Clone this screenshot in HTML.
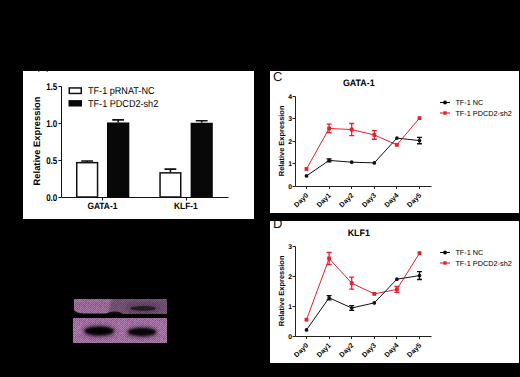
<!DOCTYPE html>
<html><head><meta charset="utf-8"><style>
html,body{margin:0;padding:0;background:#000;}
body{width:520px;height:377px;overflow:hidden;}
svg{display:block;font-family:"Liberation Sans", sans-serif;text-rendering:geometricPrecision;}
</style></head><body>
<svg width="520" height="377" viewBox="0 0 520 377">
<rect width="520" height="377" fill="#000"/>
<rect x="23" y="71" width="231" height="148" fill="#fff"/>
<rect x="38" y="71" width="1.5" height="1" fill="#777"/>
<rect x="46.5" y="71" width="1.5" height="1" fill="#777"/>
<path d="M61.5 86.5 V197.5 H228.5" stroke="#111" stroke-width="1" fill="none"/>
<path d="M58.5 197.5 H61.5" stroke="#111" stroke-width="1"/>
<text transform="translate(57.3 200.9) scale(1 1.22)" text-anchor="end" font-size="8" font-weight="bold">0.0</text>
<path d="M58.5 160.5 H61.5" stroke="#111" stroke-width="1"/>
<text transform="translate(57.3 163.9) scale(1 1.22)" text-anchor="end" font-size="8" font-weight="bold">0.5</text>
<path d="M58.5 123.5 H61.5" stroke="#111" stroke-width="1"/>
<text transform="translate(57.3 126.9) scale(1 1.22)" text-anchor="end" font-size="8" font-weight="bold">1.0</text>
<path d="M58.5 86.5 H61.5" stroke="#111" stroke-width="1"/>
<text transform="translate(57.3 89.9) scale(1 1.22)" text-anchor="end" font-size="8" font-weight="bold">1.5</text>
<path d="M102.5 197.5 V200.5" stroke="#111" stroke-width="1"/>
<path d="M186.5 197.5 V200.5" stroke="#111" stroke-width="1"/>
<text transform="translate(102.4 208.6) scale(1 1.1)" text-anchor="middle" font-size="8.4" font-weight="bold">GATA-1</text>
<text transform="translate(185.9 208.6) scale(1 1.1)" text-anchor="middle" font-size="8.4" font-weight="bold">KLF-1</text>
<path d="M87.15 161.906 V160.94400000000002 M81.25 160.94400000000002 H93.05000000000001" stroke="#111" stroke-width="1.6"/>
<rect x="76.75" y="162.656" width="20.799999999999997" height="34.343999999999994" fill="#fff" stroke="#111" stroke-width="1.5"/>
<path d="M118.15 122.464 V119.874 M112.25 119.874 H124.05000000000001" stroke="#111" stroke-width="1.6"/>
<rect x="107" y="122.464" width="22.30000000000001" height="75.036" fill="#080808"/>
<path d="M170.4 172.118 V169.158 M164.5 169.158 H176.3" stroke="#111" stroke-width="1.6"/>
<rect x="160.05" y="172.868" width="20.69999999999999" height="24.132000000000005" fill="#fff" stroke="#111" stroke-width="1.5"/>
<path d="M201.7 122.76 V120.688 M195.79999999999998 120.688 H207.6" stroke="#111" stroke-width="1.6"/>
<rect x="190.6" y="122.76" width="22.200000000000017" height="74.74" fill="#080808"/>
<rect x="69.25" y="87.95" width="12" height="5.5" fill="#fff" stroke="#111" stroke-width="1.5"/>
<rect x="68.5" y="100.1" width="13.5" height="6.4" fill="#080808"/>
<text transform="translate(88 94.3) scale(1 1.1)" font-size="9.1">TF-1 pRNAT-NC</text>
<text transform="translate(88 107.1) scale(1 1.1)" font-size="9.1">TF-1 PDCD2-sh2</text>
<text transform="translate(39.9 141) rotate(-90)" text-anchor="middle" font-size="9.35" font-weight="bold">Relative Expression</text>
<rect x="270" y="71" width="249" height="142" fill="#fff"/>
<defs><clipPath id="clpC"><rect x="270" y="71" width="249" height="142"/></clipPath></defs>
<g clip-path="url(#clpC)"><text transform="translate(272.9 80.5) scale(1.0 1)" font-size="13" fill="#111">C</text></g>
<text transform="translate(358.8 85.55) scale(1 1.05)" text-anchor="middle" font-size="8.9" font-weight="bold">GATA-1</text>
<path d="M295.5 96.5 V186.5 H431.5" stroke="#222" stroke-width="1" fill="none"/>
<path d="M292.5 186.5 H295.5" stroke="#222" stroke-width="1"/>
<text x="292.0" y="188.5" text-anchor="end" font-size="6.8" font-weight="bold">0</text>
<path d="M292.5 163.5 H295.5" stroke="#222" stroke-width="1"/>
<text x="292.0" y="165.5" text-anchor="end" font-size="6.8" font-weight="bold">1</text>
<path d="M292.5 141.5 H295.5" stroke="#222" stroke-width="1"/>
<text x="292.0" y="143.5" text-anchor="end" font-size="6.8" font-weight="bold">2</text>
<path d="M292.5 118.5 H295.5" stroke="#222" stroke-width="1"/>
<text x="292.0" y="120.5" text-anchor="end" font-size="6.8" font-weight="bold">3</text>
<path d="M292.5 96.5 H295.5" stroke="#222" stroke-width="1"/>
<text x="292.0" y="98.5" text-anchor="end" font-size="6.8" font-weight="bold">4</text>
<path d="M306.5 186.5 V189.0" stroke="#222" stroke-width="1"/>
<text transform="translate(308.7 195.8) rotate(-45)" text-anchor="end" font-size="7" font-weight="bold">Day0</text>
<path d="M329.5 186.5 V189.0" stroke="#222" stroke-width="1"/>
<text transform="translate(331.3 195.8) rotate(-45)" text-anchor="end" font-size="7" font-weight="bold">Day1</text>
<path d="M351.5 186.5 V189.0" stroke="#222" stroke-width="1"/>
<text transform="translate(353.9 195.8) rotate(-45)" text-anchor="end" font-size="7" font-weight="bold">Day2</text>
<path d="M374.5 186.5 V189.0" stroke="#222" stroke-width="1"/>
<text transform="translate(376.5 195.8) rotate(-45)" text-anchor="end" font-size="7" font-weight="bold">Day3</text>
<path d="M396.5 186.5 V189.0" stroke="#222" stroke-width="1"/>
<text transform="translate(399.09999999999997 195.8) rotate(-45)" text-anchor="end" font-size="7" font-weight="bold">Day4</text>
<path d="M419.5 186.5 V189.0" stroke="#222" stroke-width="1"/>
<text transform="translate(421.7 195.8) rotate(-45)" text-anchor="end" font-size="7" font-weight="bold">Day5</text>
<text transform="translate(283.8 140.9) rotate(-90)" text-anchor="middle" font-size="7.45" font-weight="bold">Relative Expression</text>
<path d="M306.50 168.95 L329.10 128.45 L351.70 129.57 L374.30 134.97 L396.90 144.88 L419.50 118.10" stroke="#e5202a" stroke-width="1.0" fill="none"/>
<rect x="304.60" y="167.05" width="3.8" height="3.8" fill="#e5202a"/>
<path d="M329.10 124.17 V132.72 M326.60 124.17 H331.60 M326.60 132.72 H331.60" stroke="#e5202a" stroke-width="1.3"/>
<rect x="327.20" y="126.55" width="3.8" height="3.8" fill="#e5202a"/>
<path d="M351.70 123.50 V135.65 M349.20 123.50 H354.20 M349.20 135.65 H354.20" stroke="#e5202a" stroke-width="1.3"/>
<rect x="349.80" y="127.67" width="3.8" height="3.8" fill="#e5202a"/>
<path d="M374.30 130.70 V139.25 M371.80 130.70 H376.80 M371.80 139.25 H376.80" stroke="#e5202a" stroke-width="1.3"/>
<rect x="372.40" y="133.07" width="3.8" height="3.8" fill="#e5202a"/>
<rect x="395.00" y="142.97" width="3.8" height="3.8" fill="#e5202a"/>
<rect x="417.60" y="116.20" width="3.8" height="3.8" fill="#e5202a"/>
<path d="M306.50 175.93 L329.10 160.40 L351.70 162.20 L374.30 162.88 L396.90 138.12 L419.50 140.60" stroke="#111" stroke-width="1.0" fill="none"/>
<circle cx="306.50" cy="175.93" r="1.85" fill="#111"/>
<path d="M329.10 158.83 V161.97 M326.60 158.83 H331.60 M326.60 161.97 H331.60" stroke="#111" stroke-width="1.3"/>
<circle cx="329.10" cy="160.40" r="1.85" fill="#111"/>
<circle cx="351.70" cy="162.20" r="1.85" fill="#111"/>
<circle cx="374.30" cy="162.88" r="1.85" fill="#111"/>
<circle cx="396.90" cy="138.12" r="1.85" fill="#111"/>
<path d="M419.50 137.45 V143.75 M417.00 137.45 H422.00 M417.00 143.75 H422.00" stroke="#111" stroke-width="1.3"/>
<circle cx="419.50" cy="140.60" r="1.85" fill="#111"/>
<path d="M440 102.5 H450" stroke="#111" stroke-width="1.1"/><circle cx="445" cy="102.5" r="1.9" fill="#080808"/>
<path d="M440 113 H450" stroke="#e5202a" stroke-width="1.1"/><rect x="443.3" y="111.3" width="3.4" height="3.4" fill="#e5202a"/>
<text x="455.4" y="105.0" font-size="7.3">TF-1 NC</text>
<text x="455.4" y="115.5" font-size="7.3">TF-1 PDCD2-sh2</text>
<rect x="270" y="221" width="249" height="142" fill="#fff"/>
<defs><clipPath id="clpD"><rect x="270" y="221" width="249" height="142"/></clipPath></defs>
<g clip-path="url(#clpD)"><text transform="translate(272.9 227.7) scale(1.0 1)" font-size="13" fill="#111">D</text></g>
<text transform="translate(358.8 235.55) scale(1 1.05)" text-anchor="middle" font-size="8.9" font-weight="bold">KLF1</text>
<path d="M295.5 246.5 V336.5 H431.5" stroke="#222" stroke-width="1" fill="none"/>
<path d="M292.5 336.5 H295.5" stroke="#222" stroke-width="1"/>
<text x="292.0" y="338.5" text-anchor="end" font-size="6.8" font-weight="bold">0</text>
<path d="M292.5 306.5 H295.5" stroke="#222" stroke-width="1"/>
<text x="292.0" y="308.5" text-anchor="end" font-size="6.8" font-weight="bold">1</text>
<path d="M292.5 276.5 H295.5" stroke="#222" stroke-width="1"/>
<text x="292.0" y="278.5" text-anchor="end" font-size="6.8" font-weight="bold">2</text>
<path d="M292.5 246.5 H295.5" stroke="#222" stroke-width="1"/>
<text x="292.0" y="248.5" text-anchor="end" font-size="6.8" font-weight="bold">3</text>
<path d="M306.5 336.5 V339.0" stroke="#222" stroke-width="1"/>
<text transform="translate(308.7 345.8) rotate(-45)" text-anchor="end" font-size="7" font-weight="bold">Day0</text>
<path d="M329.5 336.5 V339.0" stroke="#222" stroke-width="1"/>
<text transform="translate(331.3 345.8) rotate(-45)" text-anchor="end" font-size="7" font-weight="bold">Day1</text>
<path d="M351.5 336.5 V339.0" stroke="#222" stroke-width="1"/>
<text transform="translate(353.9 345.8) rotate(-45)" text-anchor="end" font-size="7" font-weight="bold">Day2</text>
<path d="M374.5 336.5 V339.0" stroke="#222" stroke-width="1"/>
<text transform="translate(376.5 345.8) rotate(-45)" text-anchor="end" font-size="7" font-weight="bold">Day3</text>
<path d="M396.5 336.5 V339.0" stroke="#222" stroke-width="1"/>
<text transform="translate(399.09999999999997 345.8) rotate(-45)" text-anchor="end" font-size="7" font-weight="bold">Day4</text>
<path d="M419.5 336.5 V339.0" stroke="#222" stroke-width="1"/>
<text transform="translate(421.7 345.8) rotate(-45)" text-anchor="end" font-size="7" font-weight="bold">Day5</text>
<text transform="translate(283.8 290.9) rotate(-90)" text-anchor="middle" font-size="7.45" font-weight="bold">Relative Expression</text>
<path d="M306.50 319.70 L329.10 258.50 L351.70 283.10 L374.30 293.90 L396.90 289.40 L419.50 253.10" stroke="#e5202a" stroke-width="1.0" fill="none"/>
<rect x="304.60" y="317.80" width="3.8" height="3.8" fill="#e5202a"/>
<path d="M329.10 252.50 V264.50 M326.60 252.50 H331.60 M326.60 264.50 H331.60" stroke="#e5202a" stroke-width="1.3"/>
<rect x="327.20" y="256.60" width="3.8" height="3.8" fill="#e5202a"/>
<path d="M351.70 277.10 V289.10 M349.20 277.10 H354.20 M349.20 289.10 H354.20" stroke="#e5202a" stroke-width="1.3"/>
<rect x="349.80" y="281.20" width="3.8" height="3.8" fill="#e5202a"/>
<rect x="372.40" y="292.00" width="3.8" height="3.8" fill="#e5202a"/>
<path d="M396.90 286.40 V292.40 M394.40 286.40 H399.40 M394.40 292.40 H399.40" stroke="#e5202a" stroke-width="1.3"/>
<rect x="395.00" y="287.50" width="3.8" height="3.8" fill="#e5202a"/>
<rect x="417.60" y="251.20" width="3.8" height="3.8" fill="#e5202a"/>
<path d="M306.50 329.90 L329.10 297.80 L351.70 308.00 L374.30 302.90 L396.90 279.20 L419.50 275.60" stroke="#111" stroke-width="1.0" fill="none"/>
<circle cx="306.50" cy="329.90" r="1.85" fill="#111"/>
<path d="M329.10 295.70 V299.90 M326.60 295.70 H331.60 M326.60 299.90 H331.60" stroke="#111" stroke-width="1.3"/>
<circle cx="329.10" cy="297.80" r="1.85" fill="#111"/>
<path d="M351.70 305.60 V310.40 M349.20 305.60 H354.20 M349.20 310.40 H354.20" stroke="#111" stroke-width="1.3"/>
<circle cx="351.70" cy="308.00" r="1.85" fill="#111"/>
<circle cx="374.30" cy="302.90" r="1.85" fill="#111"/>
<circle cx="396.90" cy="279.20" r="1.85" fill="#111"/>
<path d="M419.50 271.70 V279.50 M417.00 271.70 H422.00 M417.00 279.50 H422.00" stroke="#111" stroke-width="1.3"/>
<circle cx="419.50" cy="275.60" r="1.85" fill="#111"/>
<path d="M440 252.5 H450" stroke="#111" stroke-width="1.1"/><circle cx="445" cy="252.5" r="1.9" fill="#080808"/>
<path d="M440 263 H450" stroke="#e5202a" stroke-width="1.1"/><rect x="443.3" y="261.3" width="3.4" height="3.4" fill="#e5202a"/>
<text x="455.4" y="255.0" font-size="7.3">TF-1 NC</text>
<text x="455.4" y="265.5" font-size="7.3">TF-1 PDCD2-sh2</text>
<defs>
<pattern id="dith" x="0" y="0" width="16" height="16" patternUnits="userSpaceOnUse"><g shape-rendering="crispEdges"><rect x="0" y="0" width="1" height="1" fill="#ac7cac"/><rect x="1" y="0" width="1" height="1" fill="#567a58"/><rect x="2" y="0" width="1" height="1" fill="#ae7eae"/><rect x="3" y="0" width="1" height="1" fill="#668a68"/><rect x="4" y="0" width="1" height="1" fill="#a373a3"/><rect x="5" y="0" width="1" height="1" fill="#547856"/><rect x="6" y="0" width="1" height="1" fill="#bc8cbc"/><rect x="7" y="0" width="1" height="1" fill="#638765"/><rect x="8" y="0" width="1" height="1" fill="#a575a5"/><rect x="9" y="0" width="1" height="1" fill="#5d815f"/><rect x="10" y="0" width="1" height="1" fill="#b484b4"/><rect x="11" y="0" width="1" height="1" fill="#537755"/><rect x="12" y="0" width="1" height="1" fill="#b282b2"/><rect x="13" y="0" width="1" height="1" fill="#587c5a"/><rect x="14" y="0" width="1" height="1" fill="#a373a3"/><rect x="15" y="0" width="1" height="1" fill="#547856"/><rect x="0" y="1" width="1" height="1" fill="#5f8361"/><rect x="1" y="1" width="1" height="1" fill="#af7faf"/><rect x="2" y="1" width="1" height="1" fill="#547856"/><rect x="3" y="1" width="1" height="1" fill="#a979a9"/><rect x="4" y="1" width="1" height="1" fill="#547856"/><rect x="5" y="1" width="1" height="1" fill="#b383b3"/><rect x="6" y="1" width="1" height="1" fill="#5f8361"/><rect x="7" y="1" width="1" height="1" fill="#a373a3"/><rect x="8" y="1" width="1" height="1" fill="#6c906e"/><rect x="9" y="1" width="1" height="1" fill="#b484b4"/><rect x="10" y="1" width="1" height="1" fill="#557957"/><rect x="11" y="1" width="1" height="1" fill="#a979a9"/><rect x="12" y="1" width="1" height="1" fill="#668a68"/><rect x="13" y="1" width="1" height="1" fill="#b686b6"/><rect x="14" y="1" width="1" height="1" fill="#648866"/><rect x="15" y="1" width="1" height="1" fill="#a373a3"/><rect x="0" y="2" width="1" height="1" fill="#b484b4"/><rect x="1" y="2" width="1" height="1" fill="#648866"/><rect x="2" y="2" width="1" height="1" fill="#ae7eae"/><rect x="3" y="2" width="1" height="1" fill="#537755"/><rect x="4" y="2" width="1" height="1" fill="#a979a9"/><rect x="5" y="2" width="1" height="1" fill="#537755"/><rect x="6" y="2" width="1" height="1" fill="#b383b3"/><rect x="7" y="2" width="1" height="1" fill="#6d916f"/><rect x="8" y="2" width="1" height="1" fill="#a676a6"/><rect x="9" y="2" width="1" height="1" fill="#5b7f5d"/><rect x="10" y="2" width="1" height="1" fill="#af7faf"/><rect x="11" y="2" width="1" height="1" fill="#567a58"/><rect x="12" y="2" width="1" height="1" fill="#b383b3"/><rect x="13" y="2" width="1" height="1" fill="#557957"/><rect x="14" y="2" width="1" height="1" fill="#b484b4"/><rect x="15" y="2" width="1" height="1" fill="#5b7f5d"/><rect x="0" y="3" width="1" height="1" fill="#638765"/><rect x="1" y="3" width="1" height="1" fill="#bc8cbc"/><rect x="2" y="3" width="1" height="1" fill="#678b69"/><rect x="3" y="3" width="1" height="1" fill="#a777a7"/><rect x="4" y="3" width="1" height="1" fill="#557957"/><rect x="5" y="3" width="1" height="1" fill="#b484b4"/><rect x="6" y="3" width="1" height="1" fill="#648866"/><rect x="7" y="3" width="1" height="1" fill="#b686b6"/><rect x="8" y="3" width="1" height="1" fill="#587c5a"/><rect x="9" y="3" width="1" height="1" fill="#ad7dad"/><rect x="10" y="3" width="1" height="1" fill="#557957"/><rect x="11" y="3" width="1" height="1" fill="#b383b3"/><rect x="12" y="3" width="1" height="1" fill="#688c6a"/><rect x="13" y="3" width="1" height="1" fill="#a474a4"/><rect x="14" y="3" width="1" height="1" fill="#648866"/><rect x="15" y="3" width="1" height="1" fill="#a373a3"/><rect x="0" y="4" width="1" height="1" fill="#b585b5"/><rect x="1" y="4" width="1" height="1" fill="#587c5a"/><rect x="2" y="4" width="1" height="1" fill="#b181b1"/><rect x="3" y="4" width="1" height="1" fill="#678b69"/><rect x="4" y="4" width="1" height="1" fill="#b383b3"/><rect x="5" y="4" width="1" height="1" fill="#5f8361"/><rect x="6" y="4" width="1" height="1" fill="#ba8aba"/><rect x="7" y="4" width="1" height="1" fill="#5c805e"/><rect x="8" y="4" width="1" height="1" fill="#b080b0"/><rect x="9" y="4" width="1" height="1" fill="#648866"/><rect x="10" y="4" width="1" height="1" fill="#b080b0"/><rect x="11" y="4" width="1" height="1" fill="#5d815f"/><rect x="12" y="4" width="1" height="1" fill="#ab7bab"/><rect x="13" y="4" width="1" height="1" fill="#597d5b"/><rect x="14" y="4" width="1" height="1" fill="#bb8bbb"/><rect x="15" y="4" width="1" height="1" fill="#577b59"/><rect x="0" y="5" width="1" height="1" fill="#688c6a"/><rect x="1" y="5" width="1" height="1" fill="#ba8aba"/><rect x="2" y="5" width="1" height="1" fill="#597d5b"/><rect x="3" y="5" width="1" height="1" fill="#a474a4"/><rect x="4" y="5" width="1" height="1" fill="#648866"/><rect x="5" y="5" width="1" height="1" fill="#ab7bab"/><rect x="6" y="5" width="1" height="1" fill="#628664"/><rect x="7" y="5" width="1" height="1" fill="#b181b1"/><rect x="8" y="5" width="1" height="1" fill="#6e9270"/><rect x="9" y="5" width="1" height="1" fill="#ac7cac"/><rect x="10" y="5" width="1" height="1" fill="#698d6b"/><rect x="11" y="5" width="1" height="1" fill="#b080b0"/><rect x="12" y="5" width="1" height="1" fill="#5b7f5d"/><rect x="13" y="5" width="1" height="1" fill="#b585b5"/><rect x="14" y="5" width="1" height="1" fill="#547856"/><rect x="15" y="5" width="1" height="1" fill="#a575a5"/><rect x="0" y="6" width="1" height="1" fill="#b282b2"/><rect x="1" y="6" width="1" height="1" fill="#5f8361"/><rect x="2" y="6" width="1" height="1" fill="#a777a7"/><rect x="3" y="6" width="1" height="1" fill="#6a8e6c"/><rect x="4" y="6" width="1" height="1" fill="#ac7cac"/><rect x="5" y="6" width="1" height="1" fill="#567a58"/><rect x="6" y="6" width="1" height="1" fill="#b181b1"/><rect x="7" y="6" width="1" height="1" fill="#5f8361"/><rect x="8" y="6" width="1" height="1" fill="#a373a3"/><rect x="9" y="6" width="1" height="1" fill="#678b69"/><rect x="10" y="6" width="1" height="1" fill="#a474a4"/><rect x="11" y="6" width="1" height="1" fill="#6a8e6c"/><rect x="12" y="6" width="1" height="1" fill="#b383b3"/><rect x="13" y="6" width="1" height="1" fill="#648866"/><rect x="14" y="6" width="1" height="1" fill="#bb8bbb"/><rect x="15" y="6" width="1" height="1" fill="#6e9270"/><rect x="0" y="7" width="1" height="1" fill="#6c906e"/><rect x="1" y="7" width="1" height="1" fill="#ac7cac"/><rect x="2" y="7" width="1" height="1" fill="#5c805e"/><rect x="3" y="7" width="1" height="1" fill="#b888b8"/><rect x="4" y="7" width="1" height="1" fill="#5d815f"/><rect x="5" y="7" width="1" height="1" fill="#b585b5"/><rect x="6" y="7" width="1" height="1" fill="#618563"/><rect x="7" y="7" width="1" height="1" fill="#b484b4"/><rect x="8" y="7" width="1" height="1" fill="#6b8f6d"/><rect x="9" y="7" width="1" height="1" fill="#b080b0"/><rect x="10" y="7" width="1" height="1" fill="#547856"/><rect x="11" y="7" width="1" height="1" fill="#bc8cbc"/><rect x="12" y="7" width="1" height="1" fill="#547856"/><rect x="13" y="7" width="1" height="1" fill="#aa7aaa"/><rect x="14" y="7" width="1" height="1" fill="#618563"/><rect x="15" y="7" width="1" height="1" fill="#b888b8"/><rect x="0" y="8" width="1" height="1" fill="#b787b7"/><rect x="1" y="8" width="1" height="1" fill="#547856"/><rect x="2" y="8" width="1" height="1" fill="#a373a3"/><rect x="3" y="8" width="1" height="1" fill="#698d6b"/><rect x="4" y="8" width="1" height="1" fill="#b888b8"/><rect x="5" y="8" width="1" height="1" fill="#5b7f5d"/><rect x="6" y="8" width="1" height="1" fill="#b686b6"/><rect x="7" y="8" width="1" height="1" fill="#648866"/><rect x="8" y="8" width="1" height="1" fill="#b787b7"/><rect x="9" y="8" width="1" height="1" fill="#6c906e"/><rect x="10" y="8" width="1" height="1" fill="#b080b0"/><rect x="11" y="8" width="1" height="1" fill="#5b7f5d"/><rect x="12" y="8" width="1" height="1" fill="#b888b8"/><rect x="13" y="8" width="1" height="1" fill="#5e8260"/><rect x="14" y="8" width="1" height="1" fill="#be8ebe"/><rect x="15" y="8" width="1" height="1" fill="#678b69"/><rect x="0" y="9" width="1" height="1" fill="#5d815f"/><rect x="1" y="9" width="1" height="1" fill="#a272a2"/><rect x="2" y="9" width="1" height="1" fill="#608462"/><rect x="3" y="9" width="1" height="1" fill="#ad7dad"/><rect x="4" y="9" width="1" height="1" fill="#577b59"/><rect x="5" y="9" width="1" height="1" fill="#b585b5"/><rect x="6" y="9" width="1" height="1" fill="#557957"/><rect x="7" y="9" width="1" height="1" fill="#b181b1"/><rect x="8" y="9" width="1" height="1" fill="#537755"/><rect x="9" y="9" width="1" height="1" fill="#a878a8"/><rect x="10" y="9" width="1" height="1" fill="#6a8e6c"/><rect x="11" y="9" width="1" height="1" fill="#ab7bab"/><rect x="12" y="9" width="1" height="1" fill="#567a58"/><rect x="13" y="9" width="1" height="1" fill="#b989b9"/><rect x="14" y="9" width="1" height="1" fill="#597d5b"/><rect x="15" y="9" width="1" height="1" fill="#ae7eae"/><rect x="0" y="10" width="1" height="1" fill="#ae7eae"/><rect x="1" y="10" width="1" height="1" fill="#6d916f"/><rect x="2" y="10" width="1" height="1" fill="#b181b1"/><rect x="3" y="10" width="1" height="1" fill="#547856"/><rect x="4" y="10" width="1" height="1" fill="#a777a7"/><rect x="5" y="10" width="1" height="1" fill="#608462"/><rect x="6" y="10" width="1" height="1" fill="#ae7eae"/><rect x="7" y="10" width="1" height="1" fill="#638765"/><rect x="8" y="10" width="1" height="1" fill="#aa7aaa"/><rect x="9" y="10" width="1" height="1" fill="#6e9270"/><rect x="10" y="10" width="1" height="1" fill="#a676a6"/><rect x="11" y="10" width="1" height="1" fill="#6c906e"/><rect x="12" y="10" width="1" height="1" fill="#af7faf"/><rect x="13" y="10" width="1" height="1" fill="#6d916f"/><rect x="14" y="10" width="1" height="1" fill="#b383b3"/><rect x="15" y="10" width="1" height="1" fill="#5a7e5c"/><rect x="0" y="11" width="1" height="1" fill="#688c6a"/><rect x="1" y="11" width="1" height="1" fill="#af7faf"/><rect x="2" y="11" width="1" height="1" fill="#5d815f"/><rect x="3" y="11" width="1" height="1" fill="#b787b7"/><rect x="4" y="11" width="1" height="1" fill="#6e9270"/><rect x="5" y="11" width="1" height="1" fill="#ae7eae"/><rect x="6" y="11" width="1" height="1" fill="#597d5b"/><rect x="7" y="11" width="1" height="1" fill="#a676a6"/><rect x="8" y="11" width="1" height="1" fill="#547856"/><rect x="9" y="11" width="1" height="1" fill="#a777a7"/><rect x="10" y="11" width="1" height="1" fill="#567a58"/><rect x="11" y="11" width="1" height="1" fill="#a979a9"/><rect x="12" y="11" width="1" height="1" fill="#678b69"/><rect x="13" y="11" width="1" height="1" fill="#a979a9"/><rect x="14" y="11" width="1" height="1" fill="#527654"/><rect x="15" y="11" width="1" height="1" fill="#b181b1"/><rect x="0" y="12" width="1" height="1" fill="#bc8cbc"/><rect x="1" y="12" width="1" height="1" fill="#648866"/><rect x="2" y="12" width="1" height="1" fill="#a777a7"/><rect x="3" y="12" width="1" height="1" fill="#5a7e5c"/><rect x="4" y="12" width="1" height="1" fill="#ab7bab"/><rect x="5" y="12" width="1" height="1" fill="#527654"/><rect x="6" y="12" width="1" height="1" fill="#a676a6"/><rect x="7" y="12" width="1" height="1" fill="#5f8361"/><rect x="8" y="12" width="1" height="1" fill="#b383b3"/><rect x="9" y="12" width="1" height="1" fill="#5d815f"/><rect x="10" y="12" width="1" height="1" fill="#b585b5"/><rect x="11" y="12" width="1" height="1" fill="#648866"/><rect x="12" y="12" width="1" height="1" fill="#ac7cac"/><rect x="13" y="12" width="1" height="1" fill="#567a58"/><rect x="14" y="12" width="1" height="1" fill="#b888b8"/><rect x="15" y="12" width="1" height="1" fill="#6d916f"/><rect x="0" y="13" width="1" height="1" fill="#628664"/><rect x="1" y="13" width="1" height="1" fill="#b585b5"/><rect x="2" y="13" width="1" height="1" fill="#668a68"/><rect x="3" y="13" width="1" height="1" fill="#b787b7"/><rect x="4" y="13" width="1" height="1" fill="#698d6b"/><rect x="5" y="13" width="1" height="1" fill="#a373a3"/><rect x="6" y="13" width="1" height="1" fill="#608462"/><rect x="7" y="13" width="1" height="1" fill="#be8ebe"/><rect x="8" y="13" width="1" height="1" fill="#6d916f"/><rect x="9" y="13" width="1" height="1" fill="#ba8aba"/><rect x="10" y="13" width="1" height="1" fill="#6d916f"/><rect x="11" y="13" width="1" height="1" fill="#b787b7"/><rect x="12" y="13" width="1" height="1" fill="#6b8f6d"/><rect x="13" y="13" width="1" height="1" fill="#b383b3"/><rect x="14" y="13" width="1" height="1" fill="#5e8260"/><rect x="15" y="13" width="1" height="1" fill="#ae7eae"/><rect x="0" y="14" width="1" height="1" fill="#ae7eae"/><rect x="1" y="14" width="1" height="1" fill="#5e8260"/><rect x="2" y="14" width="1" height="1" fill="#a575a5"/><rect x="3" y="14" width="1" height="1" fill="#618563"/><rect x="4" y="14" width="1" height="1" fill="#b686b6"/><rect x="5" y="14" width="1" height="1" fill="#5e8260"/><rect x="6" y="14" width="1" height="1" fill="#a373a3"/><rect x="7" y="14" width="1" height="1" fill="#587c5a"/><rect x="8" y="14" width="1" height="1" fill="#a474a4"/><rect x="9" y="14" width="1" height="1" fill="#587c5a"/><rect x="10" y="14" width="1" height="1" fill="#b080b0"/><rect x="11" y="14" width="1" height="1" fill="#577b59"/><rect x="12" y="14" width="1" height="1" fill="#a575a5"/><rect x="13" y="14" width="1" height="1" fill="#5c805e"/><rect x="14" y="14" width="1" height="1" fill="#b585b5"/><rect x="15" y="14" width="1" height="1" fill="#537755"/><rect x="0" y="15" width="1" height="1" fill="#557957"/><rect x="1" y="15" width="1" height="1" fill="#a272a2"/><rect x="2" y="15" width="1" height="1" fill="#648866"/><rect x="3" y="15" width="1" height="1" fill="#a676a6"/><rect x="4" y="15" width="1" height="1" fill="#638765"/><rect x="5" y="15" width="1" height="1" fill="#a575a5"/><rect x="6" y="15" width="1" height="1" fill="#5d815f"/><rect x="7" y="15" width="1" height="1" fill="#b585b5"/><rect x="8" y="15" width="1" height="1" fill="#527654"/><rect x="9" y="15" width="1" height="1" fill="#a474a4"/><rect x="10" y="15" width="1" height="1" fill="#6d916f"/><rect x="11" y="15" width="1" height="1" fill="#a878a8"/><rect x="12" y="15" width="1" height="1" fill="#658967"/><rect x="13" y="15" width="1" height="1" fill="#ae7eae"/><rect x="14" y="15" width="1" height="1" fill="#567a58"/><rect x="15" y="15" width="1" height="1" fill="#b686b6"/></g></pattern>
<filter id="bl1" x="-50%" y="-100%" width="200%" height="300%"><feGaussianBlur stdDeviation="1.5"/></filter>
<filter id="bl2" x="-50%" y="-100%" width="200%" height="300%"><feGaussianBlur stdDeviation="1.0"/></filter>
<filter id="bl4" x="-50%" y="-100%" width="200%" height="300%"><feGaussianBlur stdDeviation="0.7"/></filter>
<filter id="bl3" x="-50%" y="-100%" width="200%" height="300%"><feGaussianBlur stdDeviation="2.5"/></filter>
<clipPath id="cb1"><rect x="74" y="299" width="93" height="15"/></clipPath>
<clipPath id="cb2"><rect x="73" y="318" width="94" height="25"/></clipPath>
</defs>
<g clip-path="url(#cb1)">
<rect x="74" y="299" width="93" height="15" fill="url(#dith)" shape-rendering="crispEdges"/>
<rect x="74" y="299" width="93" height="15" fill="#201820" opacity="0.08"/>
<path d="M112 296 H170 V316 H108 Z" fill="#1c121c" opacity="0.3" filter="url(#bl2)"/>
<path d="M72 308 Q75 313 84 313.6 L106 313.6 Q113 309.8 122 313 L124 317 L72 317 Z" fill="#000" opacity="0.85" filter="url(#bl4)"/>
<ellipse cx="143" cy="308.6" rx="17" ry="4.6" fill="#140c14" opacity="0.3" filter="url(#bl3)"/>
<ellipse cx="143" cy="308.4" rx="12.5" ry="2.4" fill="#140c14" opacity="0.75" filter="url(#bl4)"/>
</g>
<g clip-path="url(#cb2)">
<rect x="73" y="318" width="94" height="25" fill="url(#dith)" shape-rendering="crispEdges"/>
<ellipse cx="99.2" cy="331" rx="16" ry="5.6" fill="#050205" opacity="0.55" filter="url(#bl3)"/>
<ellipse cx="142" cy="332" rx="15.5" ry="5.3" fill="#050205" opacity="0.5" filter="url(#bl3)"/>
<ellipse cx="99.2" cy="331" rx="14.5" ry="4.2" fill="#050205" opacity="0.95" filter="url(#bl2)"/>
<ellipse cx="142" cy="332" rx="14" ry="3.9" fill="#050205" opacity="0.9" filter="url(#bl2)"/>
</g>
</svg>
</body></html>
